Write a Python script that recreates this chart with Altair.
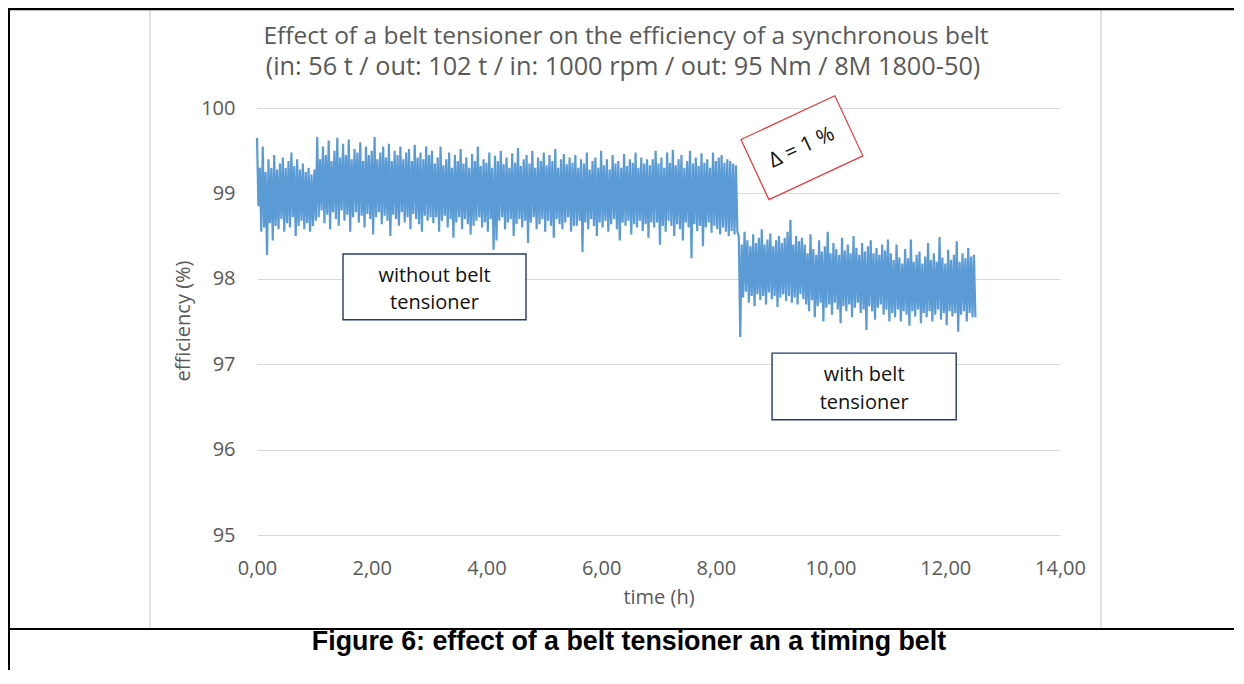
import altair as alt
import pandas as pd

# ---------------- data ----------------
STEP = 0.05  # hours between successive upper/lower excursions of the trace
TITLE_1 = "Effect of a belt tensioner on the efficiency of a synchronous belt"
TITLE_2 = "(in: 56 t / out: 102 t / in: 1000 rpm / out: 95 Nm / 8M 1800-50)"
CAPTION = "Figure 6: effect of a belt tensioner an a timing belt"
x_ticks = [0, 2, 4, 6, 8, 10, 12, 14]
y_ticks = [95, 96, 97, 98, 99, 100]

# without belt tensioner (0 - 8.35 h): upper / lower excursions
hi_a = [99.65, 99.30, 99.55, 99.25, 99.40, 99.30, 99.45, 99.28, 99.35, 99.42,
        99.30, 99.38, 99.48, 99.32, 99.40, 99.28, 99.35, 99.25, 99.30, 99.22, 99.28]
lo_a = [98.85, 98.55, 98.60, 98.28, 98.65, 98.45, 98.62, 98.58, 98.70, 98.55,
        98.65, 98.60, 98.72, 98.50, 98.62, 98.68, 98.58, 98.65, 98.55, 98.62, 98.68]
hi_b = [99.66, 99.40, 99.55, 99.45, 99.62, 99.38, 99.50, 99.65, 99.42, 99.58,
        99.45, 99.63, 99.40, 99.52, 99.48, 99.60, 99.38, 99.55, 99.45, 99.50,
        99.66, 99.40, 99.48, 99.55, 99.42, 99.58, 99.38, 99.50, 99.45, 99.55,
        99.40, 99.48, 99.52, 99.38, 99.57, 99.42, 99.48, 99.40, 99.55, 99.45]
lo_b = [98.72, 98.80, 98.65, 98.75, 98.58, 98.78, 98.70, 98.62, 98.80, 98.68,
        98.75, 98.55, 98.72, 98.78, 98.66, 98.74, 98.60, 98.76, 98.70, 98.52,
        98.72, 98.78, 98.64, 98.74, 98.68, 98.50, 98.75, 98.70, 98.62, 98.78,
        98.66, 98.72, 98.58, 98.76, 98.70, 98.64, 98.55, 98.74, 98.68, 98.72]
hi_c = [99.50, 99.35, 99.42, 99.55, 99.33, 99.40, 99.48, 99.30, 99.45, 99.38,
        99.52, 99.35, 99.42, 99.30, 99.46, 99.38, 99.55, 99.32, 99.40, 99.36,
        99.48, 99.30, 99.44, 99.38, 99.50, 99.34, 99.42, 99.30, 99.47, 99.36,
        99.53, 99.32, 99.40, 99.45, 99.35, 99.50, 99.30, 99.42, 99.38, 99.48,
        99.33, 99.45, 99.38, 99.52, 99.30, 99.40, 99.46, 99.34, 99.42, 99.36]
lo_c = [98.65, 98.72, 98.55, 98.68, 98.74, 98.60, 98.70, 98.48, 98.66, 98.72,
        98.58, 98.70, 98.64, 98.52, 98.62, 98.68, 98.72, 98.60, 98.66, 98.55,
        98.70, 98.34, 98.45, 98.68, 98.72, 98.58, 98.66, 98.70, 98.50, 98.64,
        98.70, 98.60, 98.68, 98.42, 98.66, 98.72, 98.58, 98.64, 98.70, 98.55,
        98.68, 98.62, 98.48, 98.70, 98.64, 98.58, 98.66, 98.72, 98.55, 98.62]
hi_d = [99.45, 99.30, 99.40, 99.35, 99.48, 99.28, 99.38, 99.42, 99.30, 99.50,
        99.33, 99.40, 99.28, 99.45, 99.35, 99.38, 99.30, 99.46, 99.32, 99.40,
        99.36, 99.48, 99.30, 99.42, 99.35, 99.40, 99.33]
lo_d = [98.62, 98.68, 98.31, 98.66, 98.58, 98.70, 98.62, 98.50, 98.66, 98.60,
        98.68, 98.55, 98.64, 98.70, 98.58, 98.45, 98.66, 98.62, 98.68, 98.52,
        98.64, 98.60, 98.68, 98.56, 98.64, 98.48, 98.66]
hi_e = [99.40, 99.50, 99.35, 99.42, 99.30, 99.48, 99.36, 99.51, 99.33, 99.40,
        99.45, 99.30, 99.38, 99.50, 99.35, 99.42, 99.32, 99.47, 99.36, 99.40,
        99.30, 99.48, 99.38, 99.42, 99.45, 99.36, 99.40, 99.38, 99.35, 99.33]
lo_e = [98.60, 98.66, 98.40, 98.62, 98.55, 98.68, 98.62, 98.50, 98.64, 98.58,
        98.45, 98.66, 98.60, 98.24, 98.64, 98.56, 98.62, 98.38, 98.60, 98.66,
        98.54, 98.62, 98.58, 98.52, 98.60, 98.55, 98.50, 98.56, 98.52, 98.55]
# with belt tensioner (8.40 - 12.5 h)
hi_f = [98.50, 98.40, 98.55, 98.45, 98.38, 98.52, 98.42, 98.48, 98.58, 98.40,
        98.46, 98.53, 98.38, 98.45, 98.50, 98.42, 98.48, 98.55, 98.69, 98.40,
        98.50, 98.44, 98.48]
lo_f = [97.32, 97.78, 97.85, 97.72, 97.80, 97.68, 97.82, 97.75, 97.80, 97.70,
        97.84, 97.76, 97.80, 97.67, 97.78, 97.82, 97.74, 97.80, 97.72, 97.78,
        97.70, 97.82, 97.76]
hi_g = [98.40, 98.30, 98.52, 98.35, 98.28, 98.45, 98.32, 98.38, 98.55, 98.30,
        98.42, 98.35, 98.28, 98.48, 98.33, 98.40, 98.30, 98.50, 98.36, 98.28,
        98.42, 98.32, 98.38, 98.45, 98.30, 98.36, 98.28, 98.40, 98.33, 98.46]
lo_g = [97.70, 97.62, 97.75, 97.55, 97.68, 97.72, 97.50, 97.66, 97.70, 97.58,
        97.72, 97.64, 97.48, 97.68, 97.62, 97.70, 97.55, 97.66, 97.72, 97.60,
        97.64, 97.40, 97.68, 97.62, 97.52, 97.66, 97.70, 97.58, 97.64, 97.50]
hi_h = [98.30, 98.22, 98.40, 98.25, 98.18, 98.35, 98.24, 98.46, 98.20, 98.28,
        98.32, 98.18, 98.26, 98.42, 98.22, 98.30, 98.20, 98.49, 98.25, 98.18,
        98.34, 98.22, 98.28, 98.44, 98.20, 98.30, 98.24, 98.36, 98.26, 98.28]
lo_h = [97.60, 97.55, 97.64, 97.50, 97.62, 97.58, 97.45, 97.62, 97.56, 97.64,
        97.48, 97.60, 97.55, 97.62, 97.50, 97.58, 97.64, 97.52, 97.60, 97.46,
        97.62, 97.56, 97.60, 97.38, 97.58, 97.62, 97.50, 97.60, 97.55, 97.55]

upper = hi_a + hi_b + hi_c + hi_d + hi_e + hi_f + hi_g + hi_h
lower = lo_a + lo_b + lo_c + lo_d + lo_e + lo_f + lo_g + lo_h

# annotation boxes (data units: time h, efficiency %)
box_labels = [["without belt", "tensioner"], ["with belt", "tensioner"]]
box_t0 = [1.50, 8.98]
box_t1 = [4.69, 12.19]
box_e0 = [98.29, 97.13]
box_e1 = [97.52, 96.35]
box_line_e = [[97.966, 97.646], [96.807, 96.48]]
delta_label = "Δ = 1 %"
delta_t, delta_e = 9.50, 99.535

# ---------------- build tables ----------------
rows = []
for i, (h, l) in enumerate(zip(upper, lower)):
    rows.append({"time": round(i * STEP, 4), "efficiency": h, "order": 2 * i})
    rows.append({"time": round(i * STEP + STEP / 2, 4), "efficiency": l, "order": 2 * i + 1})
trace = pd.DataFrame(rows)

boxes = pd.DataFrame({"t0": box_t0, "t1": box_t1, "e0": box_e0, "e1": box_e1})
btxt = []
for lab, es, a, b in zip(box_labels, box_line_e, box_t0, box_t1):
    for s, e in zip(lab, es):
        btxt.append({"t": (a + b) / 2, "e": e, "label": s})
box_text = pd.DataFrame(btxt)
delta = pd.DataFrame({"t": [delta_t], "e": [delta_e], "label": [delta_label]})

# ---------------- layout (page pixels) ----------------
W, H = 803, 427
OX, OY = 257, 108  # page position of plot origin
PAD = {"left": OX - 8, "top": OY - 8, "right": 174, "bottom": 135}
GRAY = "#595959"
FONT = "Open Sans"

xs = alt.Scale(domain=[0, 14], nice=False, zero=False)
ys = alt.Scale(domain=[95, 100], nice=False, zero=False)
one = pd.DataFrame({"k": [0]})


def hrule(y, x1, x2, color, w):
    return alt.Chart(one).mark_rule(color=color, strokeWidth=w).encode(
        x=alt.value(x1 - OX), x2=alt.value(x2 - OX), y=alt.value(y - OY))


def vrule(x, y1, y2, color, w):
    return alt.Chart(one).mark_rule(color=color, strokeWidth=w).encode(
        x=alt.value(x - OX), y=alt.value(y1 - OY), y2=alt.value(y2 - OY))


def ptext(txt, x, y, size, font=FONT, color=GRAY, weight="normal", angle=0, baseline="alphabetic"):
    return alt.Chart(one).mark_text(
        font=font, fontSize=size, color=color, fontWeight=weight, angle=angle,
        align="center", baseline=baseline).encode(
        x=alt.value(x - OX), y=alt.value(y - OY), text=alt.value(txt))


line = alt.Chart(trace).mark_line(color="#5b9bd5", strokeWidth=2.2).encode(
    x=alt.X("time:Q", scale=xs, axis=alt.Axis(
        values=x_ticks, labelExpr="replace(format(datum.value, '.2f'), '.', ',')",
        title=None, grid=False, domain=False, ticks=False, tickSize=0,
        labelFlush=False, labelOverlap=False,
        labelPadding=39, labelBaseline="alphabetic", labelFont=FONT,
        labelFontSize=20, labelColor=GRAY)),
    y=alt.Y("efficiency:Q", scale=ys, axis=alt.Axis(
        values=y_ticks, format="d", title=None, grid=True, gridColor="#d9d9d9",
        gridWidth=1, domain=False, ticks=False, tickSize=0, labelPadding=22,
        labelFlush=False, labelOverlap=False,
        labelFont=FONT, labelFontSize=20, labelColor=GRAY)),
    order="order:Q",
)

rects = alt.Chart(boxes).mark_rect(fill="white", stroke="#24386a", strokeWidth=1.4).encode(
    x=alt.X("t0:Q", scale=xs), x2="t1:Q",
    y=alt.Y("e0:Q", scale=ys), y2="e1:Q")

rect_text = alt.Chart(box_text).mark_text(
    font=FONT, fontSize=20, color="#111111", align="center", baseline="alphabetic").encode(
    x=alt.X("t:Q", scale=xs), y=alt.Y("e:Q", scale=ys), text="label:N")

delta_box = alt.Chart(delta).mark_point(
    shape="M-1,-0.64L1,-0.64L1,0.64L-1,0.64Z", size=10733, angle=335,
    filled=True, fill="white", stroke="#e8383d", strokeWidth=1.2, opacity=1).encode(
    x=alt.X("t:Q", scale=xs), y=alt.Y("e:Q", scale=ys))

delta_text = alt.Chart(delta).mark_text(
    font=FONT, fontSize=21, color="#111111", angle=335, align="center", baseline="middle").encode(
    x=alt.X("t:Q", scale=xs), y=alt.Y("e:Q", scale=ys), text="label:N")

doc = [
    vrule(150, 9, 628, "#d9d9d9", 1.5),
    vrule(1101, 9, 628, "#d9d9d9", 1.5),
    hrule(9, 8, 1236, "#000000", 2.5),
    hrule(629, 8, 1236, "#000000", 2),
    vrule(9, 8, 670, "#000000", 2),
    ptext(TITLE_1, 626, 44, 24.5),
    ptext(TITLE_2, 623, 75, 25.3),
    ptext("efficiency (%)", 184, 321, 20, angle=270, baseline="middle"),
    ptext("time (h)", 659, 604, 20),
    ptext(CAPTION, 629, 650, 26.8, font="Liberation Sans", color="#000000", weight="bold"),
]

chart = alt.layer(line, rects, rect_text, delta_box, delta_text, *doc).properties(
    width=W, height=H, autosize=alt.AutoSizeParams(type="none"), padding=PAD,
    background="white",
).configure_view(strokeWidth=0)

chart.save("out.html", embed_options={"renderer": "svg", "actions": False})
